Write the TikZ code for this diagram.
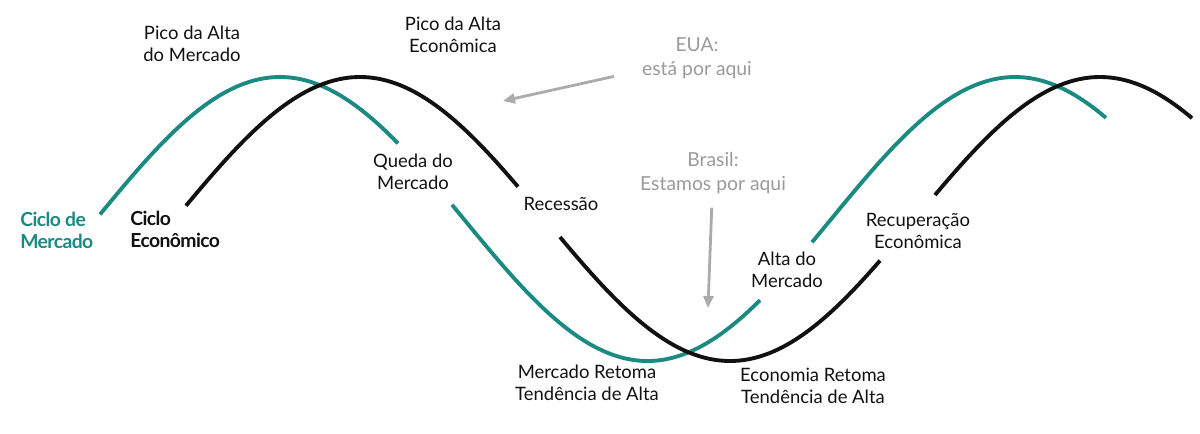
\documentclass[tikz,border=0pt]{standalone}
\usepackage{fontspec}
\setmainfont{Lato}
\newfontfamily\keyfont{Lato}[LetterSpace=-3]
\usetikzlibrary{arrows.meta,positioning}
\definecolor{mkt}{HTML}{1B8A80}
\definecolor{eco}{HTML}{111111}
\definecolor{note}{HTML}{9A9A9A}
\definecolor{pointer}{HTML}{ABABAB}
\tikzset{
  lbl/.style={align=center,font=\fontsize{10.5}{12.5}\selectfont,text=eco,inner sep=2pt},
  notelbl/.style={align=center,font=\fontsize{11}{13.6}\selectfont,text=note,inner sep=2pt},
  keylbl/.style={align=left,font=\keyfont\bfseries\fontsize{11}{12.5}\selectfont,inner sep=0pt},
  mktline/.style={draw=mkt,line width=2.2pt},
  ecoline/.style={draw=eco,line width=2.2pt},
  grayarr/.style={-{Triangle[length=2.4mm,width=2mm]},line width=1.6pt,draw=pointer},
  % 360/735 and 360/740 degrees per pixel
  declare function={mktwave(\t)=219-142*cos((\t-280)*0.489796);
                    ecowave(\t)=219-142*cos((\t-360)*0.486486);}
}

\begin{document}
\begin{tikzpicture}[x=0.02cm,y=-0.02cm]
    \path[use as bounding box] (0,0) rectangle (1200,433);

    % market cycle
    \draw[mktline,domain=100:398,samples=60,smooth,variable=\x] plot (\x,{mktwave(\x)});
    \draw[mktline,domain=452:760,samples=60,smooth,variable=\x] plot (\x,{mktwave(\x)});
    \draw[mktline,domain=812:1106,samples=60,smooth,variable=\x] plot (\x,{mktwave(\x)});

    % economic cycle
    \draw[ecoline,domain=186:518,samples=60,smooth,variable=\x] plot (\x,{ecowave(\x)});
    \draw[ecoline,domain=560:880,samples=60,smooth,variable=\x] plot (\x,{ecowave(\x)});
    \draw[ecoline,domain=935:1192,samples=60,smooth,variable=\x] plot (\x,{ecowave(\x)});

    \node[keylbl,text=mkt,anchor=west] (mktkey) at (20,230) {Ciclo de\\Mercado};
    \node[keylbl,text=eco,anchor=west] (ecokey) at (130,229) {Ciclo\\Econômico};

    \node[lbl] (mktpeak) at (192,44) {Pico da Alta\\do Mercado};
    \node[lbl] (ecopeak) at (453,35) {Pico da Alta\\Econômica};
    \node[lbl] (mktfall) at (413,172) {Queda do\\Mercado};
    \node[lbl] (recess) at (561,204) {Recessão};
    \node[lbl] (mktrise) at (787,270) {Alta do\\Mercado};
    \node[lbl] (ecorec) at (918,231) {Recuperação\\Econômica};
    \node[lbl] (mktturn) at (587,383) {Mercado Retoma\\Tendência de Alta};
    \node[lbl] (ecoturn) at (813,386) {Economia Retoma\\Tendência de Alta};

    \node[notelbl] (eua) at (697,58) {EUA:\\está por aqui};
    \node[notelbl] (brasil) at (713,173) {Brasil:\\Estamos por aqui};

    \coordinate (euahere) at (503,101);
    \coordinate (brhere) at (708,308);
    \draw[grayarr,shorten <=5mm] (eua) -- (euahere);
    \draw[grayarr,shorten <=2mm] (brasil) -- (brhere);
  \end{tikzpicture}
\end{document}
